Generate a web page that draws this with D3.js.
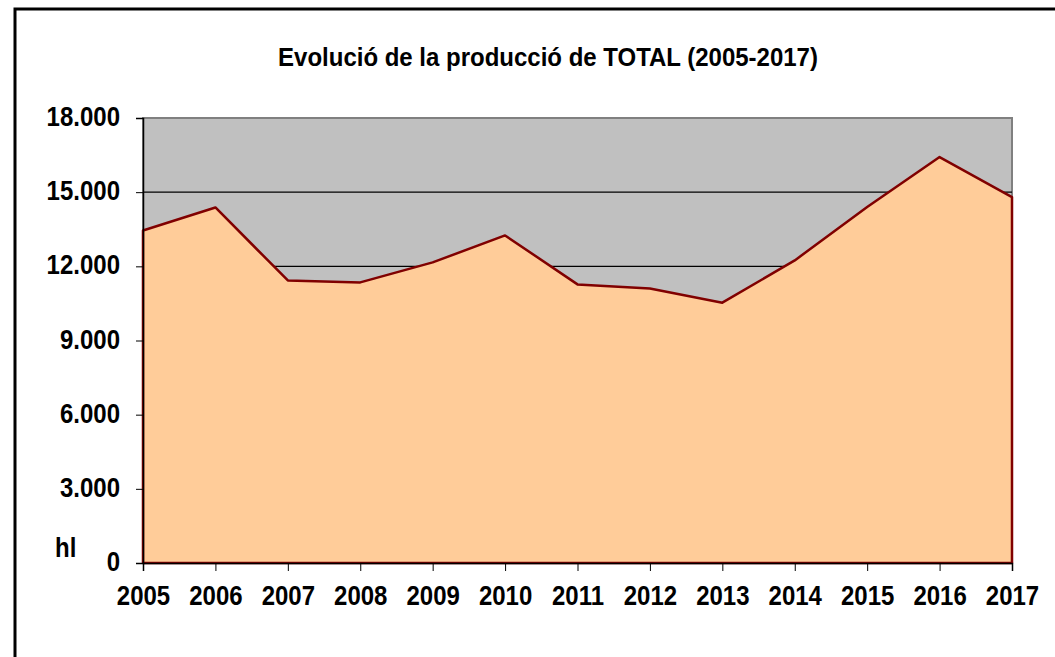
<!DOCTYPE html>
<html>
<head>
<meta charset="utf-8">
<script src="https://cdn.jsdelivr.net/npm/d3@7"></script>
<style>
  body { margin: 0; background: #fff; }
  svg { font-family: "Liberation Sans", Arial, sans-serif; }
</style>
</head>
<body>
<svg id="drawing_region"></svg>
<script>
// data
const years = [2005, 2006, 2007, 2008, 2009, 2010, 2011, 2012, 2013, 2014, 2015, 2016, 2017];
const production = [13450, 14380, 11430, 11350, 12160, 13250, 11270, 11100, 10530, 12240, 14400, 16420, 14800];
const yticks = [0, 3000, 6000, 9000, 12000, 15000, 18000];

const config = {
    width: 1055,
    height: 657,
    margin: {top: 118, right: 43, bottom: 94, left: 143}
};

const stretch = 1.12;   // excel-ish tall labels

const svg = d3.select('#drawing_region')
    .attr('width', config.width)
    .attr('height', config.height);

// outer frame
svg.append('rect')
    .attr('x', 15).attr('y', 9)
    .attr('width', 1100).attr('height', 700)
    .attr('fill', 'none')
    .attr('stroke', '#000')
    .attr('stroke-width', 3);

const inner_width = config.width - config.margin.left - config.margin.right;
const inner_height = config.height - config.margin.top - config.margin.bottom;

const chart = svg.append('g')
    .attr('transform', `translate(${config.margin.left}, ${config.margin.top})`);

const xscale = d3.scalePoint()
    .domain(years)
    .range([0, inner_width]);

const yscale = d3.scaleLinear()
    .domain([0, 18000])
    .range([inner_height, 0]);

// plot background
chart.append('rect')
    .attr('width', inner_width)
    .attr('height', inner_height)
    .attr('fill', '#c0c0c0')
    .attr('stroke', '#808080')
    .attr('stroke-width', 2);

// gridlines
chart.append('g')
    .selectAll('line')
    .data(yticks.filter(d => d > 0 && d < 18000))
    .join('line')
    .attr('x1', 0).attr('x2', inner_width)
    .attr('y1', d => yscale(d)).attr('y2', d => yscale(d))
    .attr('stroke', '#000')
    .attr('stroke-width', 1.2);

const area = d3.area()
    .x((d, i) => xscale(years[i]))
    .y0(yscale(0))
    .y1(d => yscale(d));

chart.append('path')
    .datum(production)
    .attr('d', area)
    .attr('fill', '#ffcc99')
    .attr('stroke', '#800000')
    .attr('stroke-width', 2.5)
    .attr('stroke-linejoin', 'round');

// axes
const fmt = d => d3.format(',')(d).replace(/,/g, '.');

const yaxis = d3.axisLeft(yscale)
    .tickValues(yticks)
    .tickFormat(fmt)
    .tickSize(7);

const yaxis_group = chart.append('g').call(yaxis);

const xaxis = d3.axisBottom(xscale)
    .tickSize(8);

const xaxis_group = chart.append('g')
    .attr('transform', `translate(0, ${inner_height})`)
    .call(xaxis);

[yaxis_group, xaxis_group].forEach(g => {
    g.selectAll('text')
        .attr('font-size', '24px')
        .attr('font-weight', 'bold')
        .attr('fill', '#000')
        .attr('font-family', '"Liberation Sans", Arial, sans-serif');
    g.selectAll('line').attr('stroke', '#000');
});
yaxis_group.selectAll('.tick text')
    .attr('x', 0).attr('y', 0).attr('dy', '0.28em')
    .attr('transform', `translate(-23, 0) scale(1, ${stretch})`);
xaxis_group.selectAll('.tick text')
    .attr('x', 0).attr('y', 0).attr('dy', 0)
    .attr('transform', `translate(0, 42) scale(1, ${stretch})`);
yaxis_group.select('.domain').attr('stroke', '#000').attr('stroke-width', 1.5);
xaxis_group.select('.domain').attr('stroke', '#000').attr('stroke-width', 1.5);

// title
svg.append('text')
    .attr('transform', 'translate(548, 66) scale(1, 1.05)')
    .attr('text-anchor', 'middle')
    .attr('font-size', '24px')
    .attr('font-weight', 'bold')
    .text('Evolució de la producció de TOTAL (2005-2017)');

// unit label
svg.append('text')
    .attr('transform', `translate(55, 557) scale(1, ${stretch})`)
    .attr('font-size', '24px')
    .attr('font-weight', 'bold')
    .text('hl');
</script>
</body>
</html>
